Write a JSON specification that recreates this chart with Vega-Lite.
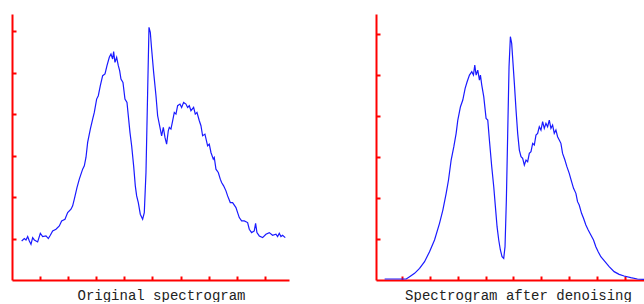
{
  "$schema": "https://vega.github.io/schema/vega-lite/v6.json",
  "background": "white",
  "padding": {"left": 11, "top": 14, "right": 0, "bottom": 0},
  "bounds": "flush",
  "spacing": 87,
  "config": {
    "view": {"stroke": null},
    "axis": {
      "grid": false,
      "labels": false,
      "domainColor": "#ff0000",
      "domainWidth": 2,
      "tickColor": "#ff0000",
      "tickWidth": 2,
      "tickSize": -4,
      "titleFont": "Liberation Mono",
      "titleFontSize": 14,
      "titleFontWeight": "normal",
      "titleColor": "#222222"
    }
  },
  "datasets": {
    "orig": [
      {"x":0.344,"y":0.941},{"x":0.439,"y":0.998},{"x":0.498,"y":0.965},{"x":0.558,"y":1.046},{"x":0.617,"y":0.941},
      {"x":0.676,"y":0.861},{"x":0.735,"y":1.022},{"x":0.795,"y":0.965},{"x":0.913,"y":0.917},{"x":1.008,"y":1.126},
      {"x":1.091,"y":1.046},{"x":1.21,"y":1.062},{"x":1.293,"y":0.998},{"x":1.364,"y":1.078},{"x":1.447,"y":1.183},
      {"x":1.566,"y":1.223},{"x":1.684,"y":1.303},{"x":1.767,"y":1.424},{"x":1.886,"y":1.464},{"x":1.981,"y":1.625},
      {"x":2.1,"y":1.706},{"x":2.159,"y":1.786},{"x":2.218,"y":1.947},{"x":2.313,"y":2.228},{"x":2.396,"y":2.43},
      {"x":2.515,"y":2.671},{"x":2.574,"y":2.751},{"x":2.633,"y":2.953},{"x":2.693,"y":3.315},{"x":2.788,"y":3.636},
      {"x":2.871,"y":3.878},{"x":2.93,"y":4.039},{"x":3.013,"y":4.36},{"x":3.072,"y":4.441},{"x":3.144,"y":4.682},
      {"x":3.227,"y":4.924},{"x":3.31,"y":4.964},{"x":3.381,"y":5.165},{"x":3.464,"y":5.366},{"x":3.523,"y":5.447},
      {"x":3.582,"y":5.326},{"x":3.618,"y":5.503},{"x":3.665,"y":5.245},{"x":3.725,"y":5.366},{"x":3.784,"y":5.165},
      {"x":3.832,"y":5.044},{"x":3.879,"y":4.843},{"x":3.95,"y":4.763},{"x":4.021,"y":4.36},{"x":4.093,"y":4.28},
      {"x":4.14,"y":3.958},{"x":4.199,"y":3.556},{"x":4.259,"y":3.234},{"x":4.33,"y":2.751},{"x":4.389,"y":2.269},
      {"x":4.437,"y":2.027},{"x":4.496,"y":1.866},{"x":4.567,"y":1.585},{"x":4.65,"y":1.464},{"x":4.709,"y":1.625},
      {"x":4.769,"y":2.59},{"x":4.828,"y":4.521},{"x":4.876,"y":6.09},{"x":4.923,"y":5.969},{"x":4.97,"y":5.567},
      {"x":5.042,"y":5.004},{"x":5.125,"y":4.441},{"x":5.184,"y":3.958},{"x":5.279,"y":3.636},{"x":5.326,"y":3.475},
      {"x":5.386,"y":3.677},{"x":5.445,"y":3.435},{"x":5.504,"y":3.274},{"x":5.563,"y":3.596},{"x":5.599,"y":3.677},
      {"x":5.658,"y":3.636},{"x":5.718,"y":3.837},{"x":5.777,"y":4.039},{"x":5.836,"y":3.998},{"x":5.896,"y":4.2},
      {"x":5.979,"y":4.24},{"x":6.038,"y":4.159},{"x":6.109,"y":4.28},{"x":6.192,"y":4.24},{"x":6.251,"y":4.159},
      {"x":6.311,"y":4.2},{"x":6.37,"y":4.079},{"x":6.465,"y":4.159},{"x":6.524,"y":3.998},{"x":6.584,"y":4.039},
      {"x":6.667,"y":3.837},{"x":6.726,"y":3.717},{"x":6.785,"y":3.475},{"x":6.868,"y":3.515},{"x":6.963,"y":3.234},
      {"x":7.022,"y":3.274},{"x":7.082,"y":3.073},{"x":7.165,"y":2.912},{"x":7.2,"y":2.953},{"x":7.26,"y":2.671},
      {"x":7.343,"y":2.59},{"x":7.414,"y":2.43},{"x":7.461,"y":2.349},{"x":7.533,"y":2.269},{"x":7.616,"y":2.148},
      {"x":7.675,"y":2.027},{"x":7.77,"y":1.866},{"x":7.853,"y":1.866},{"x":7.972,"y":1.746},{"x":8.031,"y":1.625},
      {"x":8.09,"y":1.504},{"x":8.173,"y":1.424},{"x":8.268,"y":1.424},{"x":8.387,"y":1.384},{"x":8.446,"y":1.223},
      {"x":8.529,"y":1.142},{"x":8.624,"y":1.183},{"x":8.671,"y":1.368},{"x":8.719,"y":1.142},{"x":8.802,"y":1.062},
      {"x":8.921,"y":1.022},{"x":9.039,"y":1.102},{"x":9.158,"y":1.142},{"x":9.276,"y":1.078},{"x":9.395,"y":1.102},
      {"x":9.454,"y":1.046},{"x":9.514,"y":1.126},{"x":9.573,"y":1.046},{"x":9.632,"y":1.078},{"x":9.727,"y":1.022}
    ],
    "denoised": [
      {"x":0.379,"y":0.024},{"x":1.155,"y":0.024},{"x":1.275,"y":0.081},{"x":1.454,"y":0.163},{"x":1.633,"y":0.285},
      {"x":1.812,"y":0.448},{"x":1.991,"y":0.692},{"x":2.17,"y":0.977},{"x":2.349,"y":1.384},{"x":2.469,"y":1.71},
      {"x":2.588,"y":2.117},{"x":2.672,"y":2.443},{"x":2.767,"y":2.932},{"x":2.863,"y":3.257},{"x":2.946,"y":3.583},
      {"x":3.006,"y":3.909},{"x":3.101,"y":4.235},{"x":3.185,"y":4.397},{"x":3.269,"y":4.682},{"x":3.34,"y":4.845},
      {"x":3.424,"y":5.008},{"x":3.507,"y":5.09},{"x":3.567,"y":5.008},{"x":3.615,"y":5.252},{"x":3.663,"y":5.008},
      {"x":3.722,"y":5.13},{"x":3.782,"y":4.886},{"x":3.818,"y":5.008},{"x":3.866,"y":4.764},{"x":3.937,"y":4.479},
      {"x":4.021,"y":3.95},{"x":4.081,"y":3.909},{"x":4.14,"y":3.42},{"x":4.224,"y":2.769},{"x":4.296,"y":2.28},
      {"x":4.355,"y":1.792},{"x":4.415,"y":1.303},{"x":4.475,"y":0.977},{"x":4.534,"y":0.733},{"x":4.594,"y":0.57},
      {"x":4.654,"y":0.529},{"x":4.701,"y":0.814},{"x":4.749,"y":1.954},{"x":4.797,"y":3.583},{"x":4.845,"y":5.212},
      {"x":4.893,"y":5.945},{"x":4.94,"y":5.782},{"x":4.988,"y":5.293},{"x":5.036,"y":4.805},{"x":5.096,"y":4.153},
      {"x":5.155,"y":3.583},{"x":5.215,"y":3.176},{"x":5.275,"y":3.013},{"x":5.334,"y":2.972},{"x":5.394,"y":2.809},
      {"x":5.454,"y":2.932},{"x":5.513,"y":2.891},{"x":5.573,"y":3.094},{"x":5.633,"y":3.135},{"x":5.693,"y":3.339},
      {"x":5.752,"y":3.298},{"x":5.812,"y":3.542},{"x":5.872,"y":3.583},{"x":5.931,"y":3.746},{"x":5.991,"y":3.664},
      {"x":6.051,"y":3.868},{"x":6.11,"y":3.705},{"x":6.17,"y":3.827},{"x":6.23,"y":3.746},{"x":6.29,"y":3.909},
      {"x":6.349,"y":3.705},{"x":6.409,"y":3.787},{"x":6.469,"y":3.583},{"x":6.528,"y":3.664},{"x":6.588,"y":3.502},
      {"x":6.648,"y":3.42},{"x":6.707,"y":3.339},{"x":6.767,"y":3.094},{"x":6.851,"y":2.932},{"x":6.922,"y":2.769},
      {"x":7.006,"y":2.606},{"x":7.09,"y":2.402},{"x":7.161,"y":2.239},{"x":7.245,"y":2.117},{"x":7.304,"y":1.914},
      {"x":7.364,"y":1.832},{"x":7.448,"y":1.629},{"x":7.519,"y":1.507},{"x":7.603,"y":1.344},{"x":7.687,"y":1.221},
      {"x":7.782,"y":1.099},{"x":7.878,"y":0.977},{"x":7.961,"y":0.814},{"x":8.045,"y":0.692},{"x":8.14,"y":0.57},
      {"x":8.26,"y":0.472},{"x":8.439,"y":0.326},{"x":8.618,"y":0.204},{"x":8.797,"y":0.138},{"x":8.976,"y":0.098},
      {"x":9.215,"y":0.057},{"x":9.454,"y":0.024},{"x":9.693,"y":0.016}
    ]
  },
  "hconcat": [
    {
      "width": 277,
      "height": 266,
      "data": {"name": "orig"},
      "mark": {"type": "line", "color": "#1a1aff", "strokeWidth": 1.2, "interpolate": "linear"},
      "encoding": {
        "x": {"field": "x", "type": "quantitative",
              "scale": {"domain": [0, 9.86], "nice": false, "zero": false},
              "axis": {"values": [1,2,3,4,5,6,7,8,9], "title": "Original spectrogram", "titlePadding": 7, "titleX": 149, "titleAlign": "center"}},
        "y": {"field": "y", "type": "quantitative",
              "scale": {"domain": [0, 6.41], "nice": false, "zero": false},
              "axis": {"values": [1,2,3,4,5,6], "title": null}}
      }
    },
    {
      "width": 268,
      "height": 266,
      "data": {"name": "denoised"},
      "mark": {"type": "line", "color": "#1a1aff", "strokeWidth": 1.2, "interpolate": "linear"},
      "encoding": {
        "x": {"field": "x", "type": "quantitative",
              "scale": {"domain": [0.069, 9.69], "nice": false, "zero": false},
              "axis": {"values": [1,2,3,4,5,6,7,8,9], "title": "Spectrogram after denoising", "titlePadding": 7, "titleX": 142, "titleAlign": "center"}},
        "y": {"field": "y", "type": "quantitative",
              "scale": {"domain": [0, 6.5], "nice": false, "zero": false},
              "axis": {"values": [1,2,3,4,5,6], "title": null}}
      }
    }
  ]
}
